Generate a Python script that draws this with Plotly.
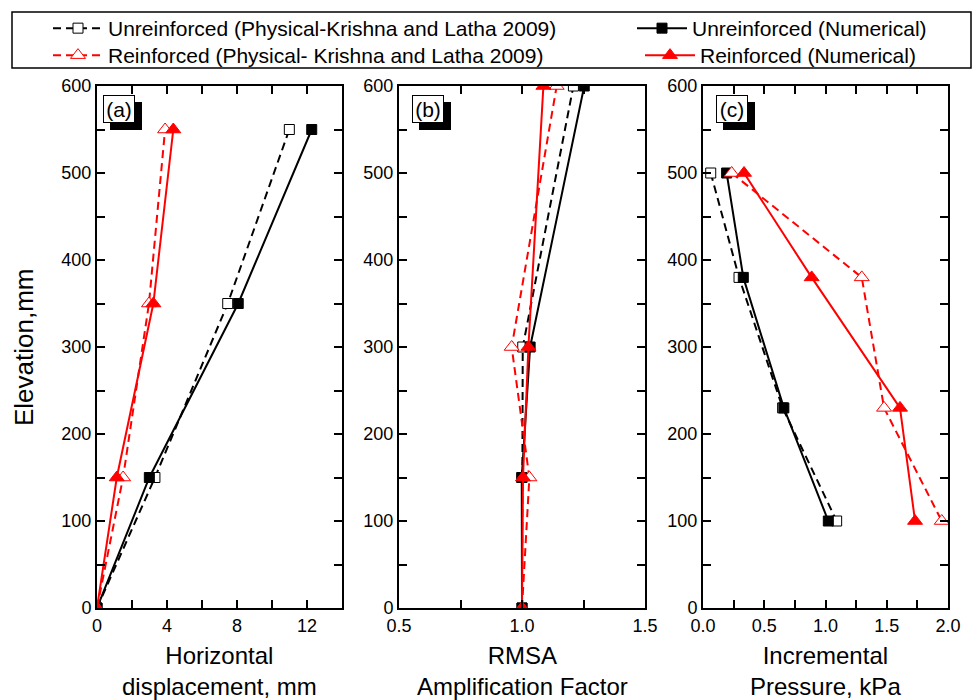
import plotly.graph_objects as go

FONT = "Liberation Sans, Arial, sans-serif"

# ---------------- data ----------------
# Panel (a): horizontal displacement (mm) vs elevation (mm)
elev_a = [0, 150, 350, 550]
a_unr_phys = [0, 3.31, 7.47, 10.99]
a_unr_num = [0, 2.99, 8.07, 12.27]
a_rein_phys = [0, 1.49, 2.97, 3.89]
a_rein_num = [0, 1.13, 3.22, 4.36]

# Panel (b): RMSA amplification factor vs elevation (mm)
elev_b = [0, 150, 300, 600]
b_unr_phys = [1.0, 1.0, 1.003, 1.209]
b_unr_num = [1.0, 0.999, 1.033, 1.253]
b_rein_phys = [1.0, 1.03, 0.958, 1.141]
b_rein_num = [1.0, 1.004, 1.026, 1.087]

# Panel (c): incremental pressure (kPa) vs elevation (mm)
elev_c = [500, 380, 230, 100]
c_unr_phys = [0.063, 0.294, 0.65, 1.091]
c_unr_num = [0.193, 0.329, 0.66, 1.023]
c_rein_phys = [0.234, 1.296, 1.478, 1.949]
c_rein_num = [0.335, 0.887, 1.608, 1.731]

series_names = [
    "Unreinforced (Physical-Krishna and Latha 2009)",
    "Unreinforced (Numerical)",
    "Reinforced (Physical- Krishna and Latha 2009)",
    "Reinforced (Numerical)",
]
x_titles = ["Horizontal<br>displacement, mm",
            "RMSA<br>Amplification Factor",
            "Incremental<br>Pressure, kPa"]
panel_labels = ["(a)", "(b)", "(c)"]
y_title = "Elevation,mm"

# ---------------- styles ----------------
DASH = "8px,5px"
styles = [
    dict(line=dict(color="black", width=2, dash=DASH),
         marker=dict(symbol="square", size=10, color="white", line=dict(color="black", width=1))),
    dict(line=dict(color="black", width=2),
         marker=dict(symbol="square", size=10, color="black", line=dict(color="black", width=1))),
    dict(line=dict(color="red", width=2, dash=DASH),
         marker=dict(symbol="triangle-up", size=13, color="white", line=dict(color="red", width=1))),
    dict(line=dict(color="red", width=2),
         marker=dict(symbol="triangle-up", size=13, color="red", line=dict(color="red", width=1))),
]
legend_of = ["legend", "legend2", "legend3", "legend4"]

panels = [
    (elev_a, [a_unr_phys, a_unr_num, a_rein_phys, a_rein_num]),
    (elev_b, [b_unr_phys, b_unr_num, b_rein_phys, b_rein_num]),
    (elev_c, [c_unr_phys, c_unr_num, c_rein_phys, c_rein_num]),
]

fig = go.Figure()
for p, (elev, series) in enumerate(panels):
    xa = "x" if p == 0 else f"x{p+1}"
    ya = "y" if p == 0 else f"y{p+1}"
    for i, vals in enumerate(series):
        fig.add_trace(go.Scatter(
            x=vals, y=elev, mode="lines+markers", name=series_names[i],
            xaxis=xa, yaxis=ya, showlegend=(p == 0), legend=legend_of[i],
            legendgroup=str(i), **styles[i]))

W, H = 975, 700
ML, MR, MT, MB = 97, 27, 86, 92
PW = W - ML - MR
PH = H - MT - MB

def px2x(px):
    return (px - ML) / PW

def py2y(py):
    return (H - MB - py) / PH

domains = [[0, px2x(342)], [px2x(399), px2x(645)], [px2x(703), 1.0]]
xranges = [[0, 14], [0.5, 1.5], [0, 2.0]]
xdticks = [4, 0.5, 0.5]
xminor = [2, 0.25, 0.25]
xfmt = ["d", ".1f", ".1f"]

axis_common = dict(showline=True, linecolor="black", linewidth=2, mirror="allticks",
                   ticks="inside", ticklen=8, tickwidth=1.5, tickcolor="black",
                   showgrid=False, zeroline=False,
                   tickfont=dict(family=FONT, size=18, color="black"))

layout = dict(width=W, height=H,
              margin=dict(l=ML, r=MR, t=MT, b=MB, autoexpand=False),
              plot_bgcolor="white", paper_bgcolor="white",
              font=dict(family=FONT, color="black"))
for p in range(3):
    xk = "xaxis" if p == 0 else f"xaxis{p+1}"
    yk = "yaxis" if p == 0 else f"yaxis{p+1}"
    ya = "y" if p == 0 else f"y{p+1}"
    xa = "x" if p == 0 else f"x{p+1}"
    layout[xk] = dict(domain=domains[p], range=xranges[p], anchor=ya,
                      tick0=0, dtick=xdticks[p], tickformat=xfmt[p],
                      minor=dict(dtick=xminor[p], ticks="inside", ticklen=8,
                                 tickwidth=1.5, tickcolor="black"),
                      **axis_common)
    layout[yk] = dict(domain=[0, 1], range=[0, 600], anchor=xa,
                      tick0=0, dtick=100,
                      minor=dict(dtick=50, ticks="inside", ticklen=8,
                                 tickwidth=1.5, tickcolor="black"),
                      **axis_common)

# one legend per cell of the 2x2 legend grid: (left px, top px, itemwidth)
leg_pos = {"legend": (48, 8, 50), "legend2": (632, 8, 50),
           "legend3": (48, 35, 50), "legend4": (640, 35, 50)}
for key, (lx, ly, iw) in leg_pos.items():
    layout[key] = dict(x=px2x(lx), y=py2y(ly), xanchor="left", yanchor="top",
                       orientation="v", bgcolor="rgba(0,0,0,0)", borderwidth=0,
                       itemwidth=iw,
                       font=dict(family=FONT, size=21, color="black"))
fig.update_layout(**layout)

# legend frame
fig.add_shape(type="rect", xref="paper", yref="paper",
              x0=px2x(12), x1=px2x(971), y0=py2y(68), y1=py2y(12),
              line=dict(color="black", width=1.5), fillcolor="rgba(0,0,0,0)", layer="below")

# axis titles (two lines each)
for p in range(3):
    cx = (domains[p][0] + domains[p][1]) / 2
    fig.add_annotation(text=x_titles[p], xref="paper", yref="paper", x=cx, y=py2y(671),
                       xanchor="center", yanchor="middle", showarrow=False,
                       font=dict(family=FONT, size=24, color="black"))

fig.add_annotation(text=y_title, xref="paper", yref="paper", x=px2x(24), y=0.5,
                   xanchor="center", yanchor="middle", textangle=-90, showarrow=False,
                   font=dict(family=FONT, size=26, color="black"))

# panel labels: white bordered box with a black drop shadow
label_dx = [6, 13, 13]
BOX_W, BOX_H, TOP, SH = 32, 28, 9, 7
for p in range(3):
    xa = "x" if p == 0 else f"x{p+1}"
    ya = "y" if p == 0 else f"y{p+1}"
    dx = label_dx[p]
    fig.add_shape(type="rect", xref=f"{xa} domain", yref=f"{ya} domain",
                  xsizemode="pixel", ysizemode="pixel", xanchor=0, yanchor=1,
                  x0=dx + SH, x1=dx + SH + BOX_W, y0=-(TOP + SH), y1=-(TOP + SH + BOX_H),
                  fillcolor="black", line=dict(color="black", width=0), layer="above")
    fig.add_annotation(text=panel_labels[p], xref=f"{xa} domain", yref=f"{ya} domain",
                       x=0, y=1, xanchor="left", yanchor="top", showarrow=False,
                       xshift=dx, yshift=-TOP, width=BOX_W - 4, height=BOX_H - 4,
                       bgcolor="white", bordercolor="black", borderwidth=1, borderpad=1,
                       font=dict(family=FONT, size=21, color="black"))

fig.write_html("out.html")
